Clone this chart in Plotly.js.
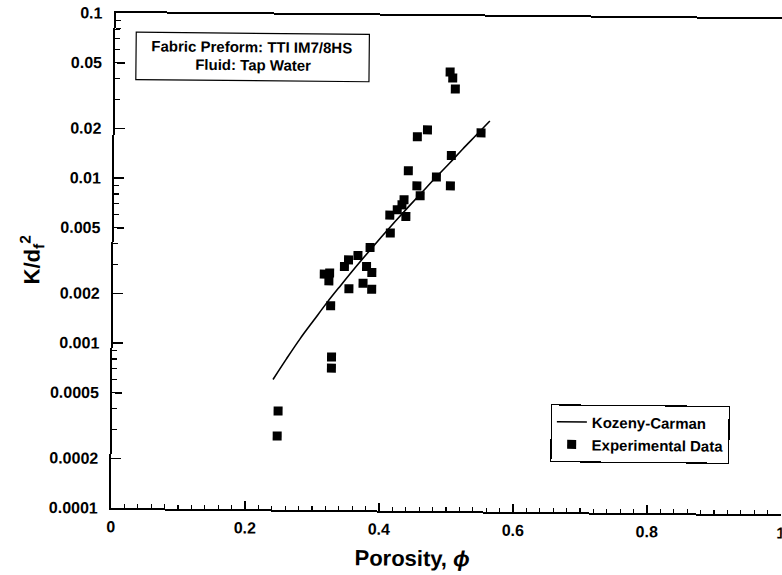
<!DOCTYPE html>
<html>
<head>
<meta charset="utf-8">
<script src="https://cdn.plot.ly/plotly-3.0.1.min.js"></script>
<style>
  html, body { margin: 0; padding: 0; background: #ffffff; overflow: hidden; }
  #chart { width: 782px; height: 575px; transform: rotate(0.54deg); transform-origin: 111px 508px; }
</style>
</head>
<body>
<div id="chart"></div>
<script>
// Experimental data (porosity, K/df^2)
const expPorosity = [0.500, 0.504, 0.508, 0.467, 0.452, 0.547, 0.503, 0.439, 0.481, 0.452,
                     0.502, 0.457, 0.433, 0.430, 0.423, 0.412, 0.436, 0.413, 0.383, 0.365,
                     0.351, 0.345, 0.378, 0.386, 0.315, 0.323, 0.322, 0.373, 0.352, 0.386,
                     0.325, 0.327, 0.327, 0.248, 0.247];
const expValue = [0.0459, 0.0422, 0.0362, 0.0204, 0.0185, 0.0197, 0.0143, 0.0115, 0.01057, 0.00933,
                  0.00937, 0.00813, 0.00767, 0.00714, 0.00667, 0.00618, 0.00608, 0.00481, 0.00392, 0.00350,
                  0.00329, 0.00300, 0.00301, 0.00277, 0.00269, 0.00273, 0.00245, 0.00238, 0.00220, 0.00219,
                  0.00173, 0.000846, 0.000725, 0.000396, 0.000279];

// Kozeny-Carman curve
const kcPorosity = [0.24, 0.26, 0.28, 0.30, 0.32, 0.34, 0.36, 0.38, 0.40, 0.42, 0.44, 0.46, 0.48, 0.50, 0.52, 0.54, 0.56];
const kcValue = [0.000614, 0.000823, 0.00109, 0.00141, 0.00182, 0.00231, 0.00292, 0.00366, 0.00456,
                 0.00565, 0.00697, 0.00856, 0.0105, 0.0128, 0.0157, 0.0191, 0.0233];

// Tick labels
const xTickVals = [0, 0.2, 0.4, 0.6, 0.8, 1];
const xTickText = ['0', '0.2', '0.4', '0.6', '0.8', '1'];
const yTickVals = [0.0001, 0.0002, 0.0005, 0.001, 0.002, 0.005, 0.01, 0.02, 0.05, 0.1];
const yTickText = ['0.0001', '0.0002', '0.0005', '0.001', '0.002', '0.005', '0.01', '0.02', '0.05', '0.1'];
const xMinorVals = [];
for (let i = 1; i < 50; i++) { if (i % 10 !== 0) xMinorVals.push(i / 50); }
const yMinorVals = [];
[0.0001, 0.001, 0.01].forEach(d => [3, 4, 6, 7, 8, 9].forEach(m => yMinorVals.push(m * d)));

const FONT = 'Liberation Sans, Arial, Helvetica, sans-serif';

const traces = [
  {
    x: kcPorosity, y: kcValue, type: 'scatter', mode: 'lines',
    name: 'Kozeny-Carman',
    line: { color: '#000000', width: 1.6, shape: 'spline' }
  },
  {
    x: expPorosity, y: expValue, type: 'scatter', mode: 'markers',
    name: 'Experimental Data',
    marker: { symbol: 'square', size: 9, color: '#000000' }
  },
  { x: [null], y: [null], xaxis: 'x2', yaxis: 'y2', type: 'scatter', mode: 'markers', showlegend: false, hoverinfo: 'skip' },
  { x: [null], y: [null], xaxis: 'x3', yaxis: 'y3', type: 'scatter', mode: 'markers', showlegend: false, hoverinfo: 'skip' }
];

function tickAxis(extra) {
  return Object.assign({
    ticks: 'inside', tickcolor: '#000000', tickmode: 'array',
    showticklabels: false, showline: false, showgrid: false, zeroline: false
  }, extra);
}

const layout = {
  width: 782, height: 575,
  margin: { l: 111, r: 1, t: 13, b: 67 },
  paper_bgcolor: '#ffffff', plot_bgcolor: '#ffffff',
  font: { family: FONT, color: '#000000', size: 15 },
  showlegend: true,
  legend: {
    x: 0.655, y: 0.218, xanchor: 'left', yanchor: 'top',
    bordercolor: '#000000', borderwidth: 1.2, bgcolor: '#ffffff',
    font: { family: FONT, size: 15, color: '#000000', weight: 'bold' },
    itemwidth: 30, tracegroupgap: 0
  },
  xaxis: {
    range: [0, 1], tickmode: 'array', tickvals: xTickVals, ticktext: xTickText,
    ticks: 'inside', ticklen: 8, tickwidth: 1.6, tickcolor: '#000000',
    showline: true, linewidth: 2, linecolor: '#000000', mirror: true,
    showgrid: false, zeroline: false, ticklabelstandoff: 3, ticklabeloverflow: 'allow',
    tickfont: { family: FONT, size: 16, weight: 'bold' }
  },
  yaxis: {
    type: 'log', range: [-4, -1], tickmode: 'array', tickvals: yTickVals, ticktext: yTickText,
    ticks: 'inside', ticklen: 10, tickwidth: 1.6, tickcolor: '#000000',
    showline: true, linewidth: 2, linecolor: '#000000', mirror: false,
    showgrid: false, zeroline: false, ticklabelstandoff: 8, ticklabeloverflow: 'allow',
    tickfont: { family: FONT, size: 16, weight: 'bold' },
    title: { text: 'K/d<sub>f</sub><sup>2</sup>', font: { family: FONT, size: 22, weight: 'bold' }, standoff: 5 }
  },
  // minor ticks
  xaxis2: tickAxis({ overlaying: 'x', anchor: 'y', side: 'bottom', range: [0, 1], tickvals: xMinorVals, ticklen: 4, tickwidth: 1.3 }),
  yaxis2: tickAxis({ overlaying: 'y', anchor: 'x', side: 'left', type: 'log', range: [-4, -1], tickvals: yMinorVals, ticklen: 5, tickwidth: 1.3 }),
  // major ticks
  xaxis3: tickAxis({ overlaying: 'x', anchor: 'y', side: 'bottom', range: [0, 1], tickvals: xTickVals, ticklen: 8, tickwidth: 1.6 }),
  yaxis3: tickAxis({ overlaying: 'y', anchor: 'x', side: 'left', type: 'log', range: [-4, -1], tickvals: yTickVals, ticklen: 10, tickwidth: 1.6 }),
  shapes: [
    { type: 'rect', xref: 'paper', yref: 'paper', x0: 0.031, x1: 0.379, y0: 0.866, y1: 0.9616,
      line: { color: '#000000', width: 1.2 }, fillcolor: 'rgba(0,0,0,0)' }
  ],
  annotations: [
    { xref: 'paper', yref: 'paper', x: 0.2036, y: 0.935, text: 'Fabric Preform: TTI IM7/8HS', showarrow: false,
      xanchor: 'center', yanchor: 'middle', font: { family: FONT, size: 15, weight: 'bold' } },
    { xref: 'paper', yref: 'paper', x: 0.2057, y: 0.898, text: 'Fluid: Tap Water', showarrow: false,
      xanchor: 'center', yanchor: 'middle', font: { family: FONT, size: 15, weight: 'bold' } },
    { xref: 'paper', yref: 'paper', x: 0.45, y: -0.0954, text: 'Porosity, <i>ϕ</i>', showarrow: false,
      xanchor: 'center', yanchor: 'middle', font: { family: FONT, size: 22, weight: 'bold' } }
  ]
};

Plotly.newPlot('chart', traces, layout, { displayModeBar: false, staticPlot: true });
</script>
</body>
</html>
